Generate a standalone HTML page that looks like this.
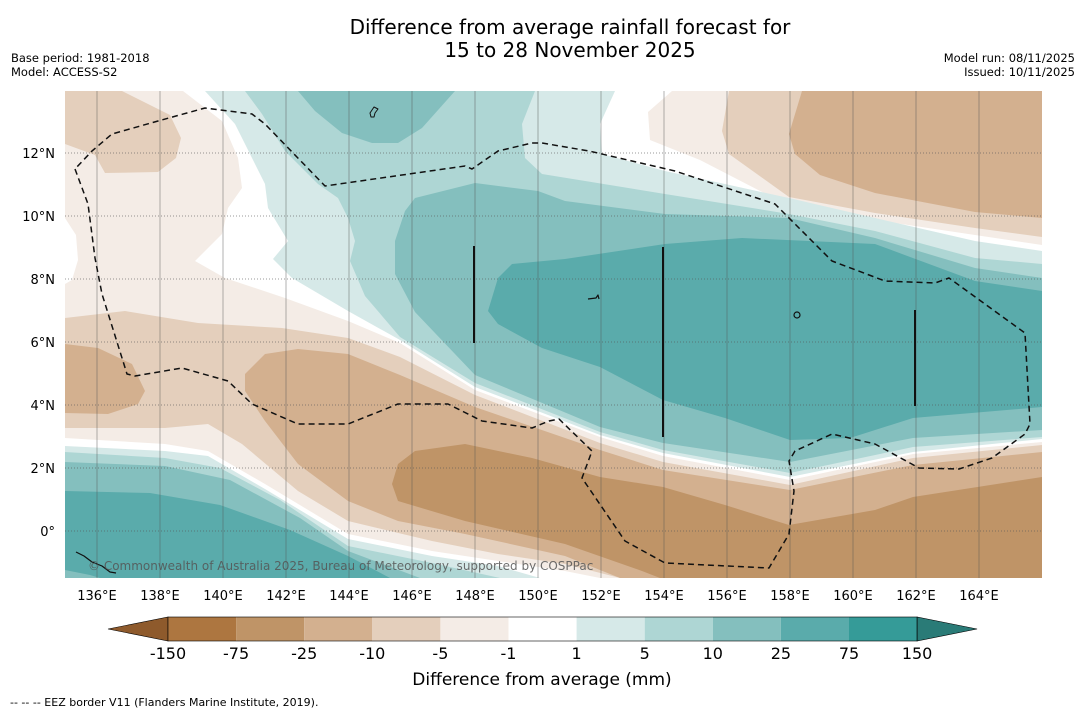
<!DOCTYPE html>
<html><head><meta charset="utf-8">
<style>
body{margin:0;background:#fff;width:1085px;height:713px;overflow:hidden;font-family:"Liberation Sans","DejaVu Sans",sans-serif;}
svg text{font-family:"DejaVu Sans","Liberation Sans",sans-serif;}
</style></head>
<body>
<svg id="root" width="1085" height="713" viewBox="0 0 1085 713" xmlns="http://www.w3.org/2000/svg">
<text x="570" y="34" font-size="20" text-anchor="middle" fill="#000">Difference from average rainfall forecast for</text>
<text x="570" y="57" font-size="20" text-anchor="middle" fill="#000">15 to 28 November 2025</text>
<text x="11" y="62" font-size="11.5">Base period: 1981-2018</text>
<text x="11" y="76" font-size="11.5">Model: ACCESS-S2</text>
<text x="1075" y="62" font-size="11.5" text-anchor="end">Model run: 08/11/2025</text>
<text x="1075" y="76" font-size="11.5" text-anchor="end">Issued: 10/11/2025</text>

<defs><clipPath id="mapclip"><rect x="65" y="91" width="977" height="487"/></clipPath></defs>
<g clip-path="url(#mapclip)" stroke-linejoin="round">
<rect x="65" y="91" width="977" height="487" fill="#ffffff"/>
<!-- brown -5 -->
<polygon fill="#f4ece6" points="65,91 183,91 222,121 238,158 242,188 228,208 222,234 195,261 225,278 285,298 348,321 400,343 475,390 600,437 663,456 790,480 913,454 1042,442 1042,578 600,578 565,571 498,561 432,551 348,534 265,484 208,451 165,444 65,438"/>
<polygon fill="#f4ece6" points="672,91 648,112 650,140 700,160 789,206 875,220 975,235 1042,245 1042,91"/>
<polygon fill="#ffffff" points="65,218 76,235 78,260 72,280 65,284"/>
<!-- brown -10 -->
<polygon fill="#e4cfbc" points="65,91 122,91 170,115 181,138 176,158 158,172 105,173 95,155 65,144"/>
<polygon fill="#e4cfbc" points="729,91 722,131 729,154 789,197 875,213 975,228 1042,237 1042,91"/>
<polygon fill="#e4cfbc" points="65,318 125,311 198,323 282,328 348,338 400,357 475,395 600,443 663,462 790,485 913,458 1042,445 1042,578 620,578 565,564 498,554 432,541 348,521 298,491 242,444 208,424 165,428 65,428"/>
<!-- brown -25 -->
<polygon fill="#d3b08f" points="802,91 789,134 795,154 820,175 875,193 975,212 1042,218 1042,91"/>
<polygon fill="#d3b08f" points="65,344 98,348 132,364 145,391 138,404 108,414 65,413"/>
<polygon fill="#d3b08f" points="245,374 265,354 298,349 348,354 400,375 475,407 600,450 663,470 790,490 913,465 1042,452 1042,578 620,578 565,556 465,534 398,521 348,501 298,464 265,421 245,391"/>
<!-- brown -75 -->
<polygon fill="#bf9467" points="392,484 398,464 415,451 465,444 532,458 600,477 663,487 725,505 789,525 875,510 913,497 1042,477 1042,578 660,578 642,571 565,544 465,521 398,501"/>
<!-- teal >=1 -->
<polygon fill="#d6e9e8" points="205,91 235,124 265,184 268,208 288,241 273,259 292,278 348,311 400,340 475,387 600,435 663,453 790,477 913,452 1042,439 1042,251 975,241 875,218 789,198 725,184 665,171 602,154 600,124 615,91"/>
<polygon fill="#d6e9e8" points="65,446 165,451 208,456 265,489 348,539 432,556 498,566 540,578 65,578"/>
<!-- teal >=5 -->
<polygon fill="#aed6d4" points="245,91 262,114 285,151 318,184 338,198 348,218 355,241 350,261 365,296 400,337 475,383 600,432 663,450 790,473 913,447 1042,437 1042,264 975,258 875,231 789,214 665,194 542,174 525,158 522,124 535,91"/>
<polygon fill="#aed6d4" points="65,452 165,458 220,468 280,500 348,546 432,563 500,578 65,578"/>
<!-- teal >=10 -->
<polygon fill="#84bfbe" points="298,91 315,111 342,133 372,143 398,143 422,128 455,91"/>
<polygon fill="#84bfbe" points="405,211 415,198 475,183 538,191 565,201 665,214 789,218 875,238 975,268 1042,278 1042,430 913,438 790,462 663,443 600,427 475,375 415,312 395,274 395,241"/>
<polygon fill="#84bfbe" points="65,462 165,466 230,480 300,518 348,551 420,578 65,578"/>
<!-- teal >=25 -->
<polygon fill="#5aabab" points="498,278 512,264 565,259 665,244 742,238 875,244 975,281 1042,291 1042,407 913,418 850,438 790,440 725,418 663,400 600,367 542,348 498,324 488,311"/>
<polygon fill="#5aabab" points="65,491 150,493 220,505 290,530 348,556 390,578 65,578"/>
<polygon fill="#84bfbe" points="65,570 90,575 100,578 65,578"/>
<g id="grid"></g>
<!-- EEZ border -->
<polyline fill="none" stroke="#111" stroke-width="1.5" stroke-dasharray="6,4" points="75,169 88,204 95,258 102,294 127,374 135,376 182,368 228,381 252,404 298,424 348,424 398,404 448,404 482,421 532,428 549,421 559,419 592,451 582,478 625,541 665,563 769,568 789,534 794,491 789,461 795,451 832,434 875,444 919,468 959,469 992,458 1025,434 1030,424 1025,333 949,278 935,283 885,281 832,261 775,204 675,171 589,151 542,143 532,143 498,151 472,169 465,166 325,186 265,124 252,114 205,108 158,121 112,134 92,151 75,169"/>
<line x1="474" y1="246" x2="474" y2="343" stroke="#111" stroke-width="2"/>
<line x1="663" y1="247" x2="663" y2="437" stroke="#111" stroke-width="2"/>
<line x1="915" y1="310" x2="915" y2="406" stroke="#111" stroke-width="2"/>
<path d="M370,113 l4,-6 l4,2 l-3,4 l-1,4 l-3,0z" fill="none" stroke="#111" stroke-width="1"/>
<circle cx="797" cy="315" r="3" fill="none" stroke="#111" stroke-width="1.2"/>
<path d="M588,299 l8,-1 l2,-3 l1,4" fill="none" stroke="#111" stroke-width="1.2"/>
<path d="M76,552 l8,4 l8,6 l10,4 l8,6 l6,1" fill="none" stroke="#111" stroke-width="1.2"/>
<text x="88" y="570" font-size="12" fill="#555" opacity="0.85">© Commonwealth of Australia 2025, Bureau of Meteorology, supported by COSPPac</text>
</g>
<g id="axes"></g>
<g id="cbar"></g>
<text x="542" y="685" font-size="17" text-anchor="middle">Difference from average (mm)</text>
<text x="10" y="706" font-size="11">--  --  -- EEZ border V11 (Flanders Marine Institute, 2019).</text>
</svg>
<script>
const NS="http://www.w3.org/2000/svg";
const lonTicks=[136,138,140,142,144,146,148,150,152,154,156,158,160,162,164];
const latTicks=[12,10,8,6,4,2,0];
const cbarLabels=["-150","-75","-25","-10","-5","-1","1","5","10","25","75","150"];
const cbarColors=["#ad7640","#bf9467","#d3b08f","#e4cfbc","#f4ece6","#ffffff","#d6e9e8","#aed6d4","#84bfbe","#5aabab","#359b98"];
const extColors=["#8e5a2c","#2a7b77"];
const xOf=lon=>97+(lon-136)*31.5;
const yOf=lat=>531-lat*31.5;
function mk(tag,attrs,parent){const e=document.createElementNS(NS,tag);for(const k in attrs)e.setAttribute(k,attrs[k]);parent.appendChild(e);return e;}
const grid=document.getElementById('grid'),axes=document.getElementById('axes'),cbar=document.getElementById('cbar');
lonTicks.forEach(l=>{
  const g=mk('line',{x1:xOf(l),x2:xOf(l),y1:91,y2:578,stroke:'#555','stroke-opacity':0.45,'stroke-width':1},grid);
  
  
  const t=mk('text',{x:xOf(l),y:600,'font-size':13,'text-anchor':'middle'},axes);
  t.textContent=l+'°E';
  
  
});
latTicks.forEach(l=>{
  const g=mk('line',{x1:65,x2:1042,y1:yOf(l),y2:yOf(l),stroke:'#555','stroke-opacity':0.6,'stroke-width':1,'stroke-dasharray':'1,2'},grid);
  
  
  const t=mk('text',{x:55,y:yOf(l)+5,'font-size':13,'text-anchor':'end'},axes);
  t.textContent=l===0?'0°':l+'°N';
  
  
});
const cx0=168,cw=68.1,cy=617,ch=24;
const l1=mk('polygon',{points:`${cx0},${cy} ${cx0},${cy+ch} 108,${cy+ch/2}`,fill:extColors[0],stroke:'#000','stroke-width':0.6},cbar);


cbarColors.forEach((c,i)=>{
  const r=mk('rect',{x:cx0+i*cw,y:cy,width:cw,height:ch,fill:c},cbar);
  
  
});
const xe=cx0+cbarColors.length*cw;
const r1=mk('polygon',{points:`${xe},${cy} ${xe},${cy+ch} ${xe+60},${cy+ch/2}`,fill:extColors[1],stroke:'#000','stroke-width':0.6},cbar);


const ob=mk('rect',{x:cx0,y:cy,width:xe-cx0,height:ch,fill:'none',stroke:'#000','stroke-width':0.6},cbar);


cbarLabels.forEach((s,i)=>{
  const t=mk('text',{x:cx0+i*cw,y:659,'font-size':16,'text-anchor':'middle'},cbar);
  t.textContent=s;
  
  
});
</script>
</body></html>
